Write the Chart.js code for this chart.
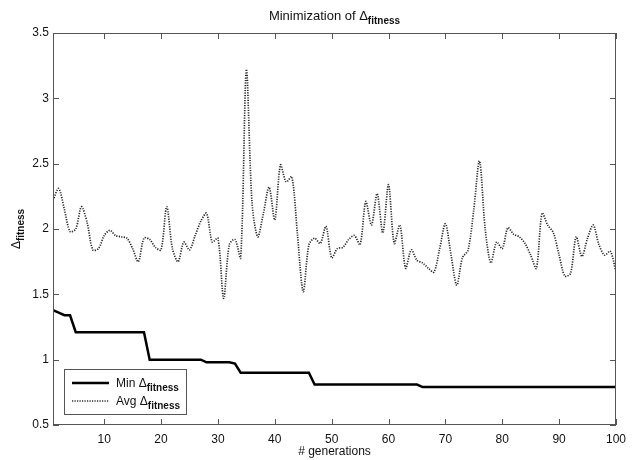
<!DOCTYPE html>
<html><head><meta charset="utf-8">
<script src="https://cdn.jsdelivr.net/npm/chart.js@4/dist/chart.umd.min.js"></script>
<style>html,body{margin:0;padding:0;background:#fff}</style>
</head><body>
<canvas id="c" width="633" height="460"></canvas>
<script>
const generations = [1,2,3,4,5,6,7,8,9,10,11,12,13,14,15,16,17,18,19,20,
21,22,23,24,25,26,27,28,29,30,31,32,33,34,35,36,37,38,39,40,
41,42,43,44,45,46,47,48,49,50,51,52,53,54,55,56,57,58,59,60,
61,62,63,64,65,66,67,68,69,70,71,72,73,74,75,76,77,78,79,80,
81,82,83,84,85,86,87,88,89,90,91,92,93,94,95,96,97,98,99,100];
const minFitness = [1.38,1.36,1.34,1.34,1.21,1.21,1.21,1.21,1.21,1.21,
1.21,1.21,1.21,1.21,1.21,1.21,1.21,1.00,1.00,1.00,
1.00,1.00,1.00,1.00,1.00,1.00,1.00,0.98,0.98,0.98,
0.98,0.98,0.97,0.90,0.90,0.90,0.90,0.90,0.90,0.90,
0.90,0.90,0.90,0.90,0.90,0.90,0.81,0.81,0.81,0.81,
0.81,0.81,0.81,0.81,0.81,0.81,0.81,0.81,0.81,0.81,
0.81,0.81,0.81,0.81,0.81,0.79,0.79,0.79,0.79,0.79,
0.79,0.79,0.79,0.79,0.79,0.79,0.79,0.79,0.79,0.79,
0.79,0.79,0.79,0.79,0.79,0.79,0.79,0.79,0.79,0.79,
0.79,0.79,0.79,0.79,0.79,0.79,0.79,0.79,0.79,0.79];
const avgFitness = [2.22,2.31,2.15,1.98,2.00,2.17,2.05,1.84,1.85,1.95,
1.99,1.95,1.94,1.93,1.85,1.75,1.93,1.92,1.86,1.84,
2.17,1.85,1.75,1.90,1.84,1.95,2.06,2.12,1.90,1.93,
1.47,1.88,1.92,1.78,3.22,2.20,1.94,2.12,2.32,2.07,
2.49,2.36,2.40,1.95,1.52,1.88,1.93,1.89,2.02,1.78,
1.85,1.86,1.92,1.95,1.88,2.21,2.03,2.27,1.97,2.34,
1.89,2.03,1.70,1.84,1.76,1.74,1.70,1.67,1.85,2.04,
1.80,1.57,1.78,1.84,2.15,2.52,2.00,1.74,1.90,1.85,
2.01,1.96,1.94,1.89,1.80,1.70,2.12,2.03,1.97,1.80,
1.64,1.66,1.94,1.79,1.93,2.03,1.88,1.80,1.83,1.67];
const xTicks = [10,20,30,40,50,60,70,80,90,100];
const yTicks = [0.5,1,1.5,2,2.5,3,3.5];
const titleMain = 'Minimization of \u0394';
const subText = 'fitness';
const xTitle = '# generations';
const legendMain = ['Min \u0394', 'Avg \u0394'];

const FONT = '"Liberation Sans", Arial, Helvetica, sans-serif';

function drawSub(ctx, x, y, main, sub, mainSize, subSize, align){
  ctx.font = mainSize + 'px ' + FONT;
  const w1 = ctx.measureText(main).width;
  ctx.font = 'bold ' + subSize + 'px ' + FONT;
  const w2 = ctx.measureText(sub).width;
  let sx = x;
  if (align === 'center') sx = x - (w1 + w2) / 2;
  ctx.textAlign = 'left';
  ctx.textBaseline = 'alphabetic';
  ctx.font = mainSize + 'px ' + FONT;
  ctx.fillText(main, sx, y);
  ctx.font = 'bold ' + subSize + 'px ' + FONT;
  ctx.fillText(sub, sx + w1, y + 4);
}

const decor = {
  id: 'decor',
  afterDraw(chart){
    const {ctx, chartArea: a, scales: {x, y}} = chart;
    ctx.save();
    ctx.strokeStyle = '#555';
    ctx.lineWidth = 1;
    ctx.strokeRect(Math.round(a.left) + 0.5, Math.round(a.top) + 0.5,
                   Math.round(a.right - a.left) - 1, Math.round(a.bottom - a.top) - 1);
    ctx.beginPath();
    xTicks.forEach(v => {
      const px = Math.round(x.getPixelForValue(v)) + 0.5;
      ctx.moveTo(px, a.bottom); ctx.lineTo(px, a.bottom - 6);
      ctx.moveTo(px, a.top); ctx.lineTo(px, a.top + 6);
    });
    yTicks.forEach(v => {
      const py = Math.round(y.getPixelForValue(v)) + 0.5;
      ctx.moveTo(a.left, py); ctx.lineTo(a.left + 6, py);
      ctx.moveTo(a.right, py); ctx.lineTo(a.right - 6, py);
    });
    ctx.stroke();

    ctx.fillStyle = '#111';
    // title
    drawSub(ctx, (a.left + a.right) / 2, 20, titleMain, subText, 13, 10, 'center');
    // x title
    ctx.font = '12px ' + FONT;
    ctx.textAlign = 'center';
    ctx.textBaseline = 'middle';
    ctx.fillText(xTitle, (a.left + a.right) / 2, 452);
    // y title
    ctx.save();
    ctx.translate(20, (a.top + a.bottom) / 2);
    ctx.rotate(-Math.PI / 2);
    drawSub(ctx, 0, 0, '\u0394', subText, 12, 10, 'center');
    ctx.restore();

    // legend
    const lx = 64, ly = 369, lw = 122, lh = 45;
    ctx.fillStyle = '#fff';
    ctx.fillRect(lx, ly, lw, lh);
    ctx.strokeStyle = '#555';
    ctx.lineWidth = 1;
    ctx.strokeRect(lx + 0.5, ly + 0.5, lw, lh);
    const rows = [383, 401];
    const ds = chart.data.datasets;
    rows.forEach((ry, i) => {
      ctx.beginPath();
      ctx.strokeStyle = ds[i].borderColor;
      ctx.lineWidth = ds[i].borderWidth;
      ctx.setLineDash(ds[i].borderDash || []);
      ctx.moveTo(72, ry); ctx.lineTo(109, ry);
      ctx.stroke();
      ctx.setLineDash([]);
      ctx.fillStyle = '#111';
      drawSub(ctx, 116, ry + 4, legendMain[i], subText, 12, 10, 'left');
    });
    ctx.restore();
  }
};

new Chart(document.getElementById('c'), {
  type: 'line',
  data: {
    datasets: [
      {
        label: 'Min',
        data: generations.map((g, i) => ({x: g, y: minFitness[i]})),
        borderColor: '#000',
        borderWidth: 2.5,
        pointRadius: 0,
        tension: 0,
        fill: false
      },
      {
        label: 'Avg',
        data: generations.map((g, i) => ({x: g, y: avgFitness[i]})),
        borderColor: '#2a2a2a',
        borderWidth: 1.7,
        borderDash: [1.2, 1.3],
        pointRadius: 0,
        tension: 0.3,
        fill: false
      }
    ]
  },
  options: {
    responsive: false,
    animation: false,
    devicePixelRatio: 1,
    layout: {padding: {top: 33, right: 11, left: 0, bottom: 0}},
    plugins: {legend: {display: false}, title: {display: false}, tooltip: {enabled: false}},
    scales: {
      x: {
        type: 'linear', min: 1, max: 100,
        grid: {display: false, drawTicks: false},
        border: {display: false},
        afterBuildTicks: s => { s.ticks = xTicks.map(v => ({value: v})); },
        afterFit: s => { s.height = 35; },
        ticks: {color: '#111', font: {family: FONT, size: 12}, padding: 7, maxRotation: 0, autoSkip: false,
                callback: v => String(v)}
      },
      y: {
        type: 'linear', min: 0.5, max: 3.5,
        grid: {display: false, drawTicks: false},
        border: {display: false},
        afterBuildTicks: s => { s.ticks = yTicks.map(v => ({value: v})); },
        afterFit: s => { s.width = 53; },
        ticks: {color: '#111', font: {family: FONT, size: 12}, padding: 4, autoSkip: false,
                callback: v => String(v)}
      }
    }
  },
  plugins: [decor]
});
</script>
</body></html>
